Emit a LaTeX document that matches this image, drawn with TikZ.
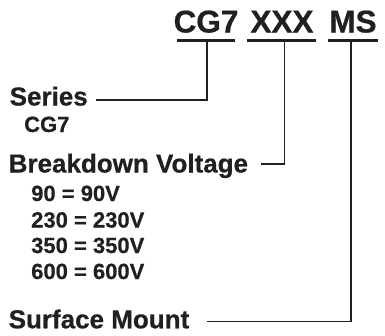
\documentclass[tikz,border=0pt]{standalone}
\usepackage{fontspec}
\setmainfont{Liberation Sans}
\newfontfamily\heavyfont{Liberation Sans Bold}[FakeBold=0.6]
\usepackage{tikz}
\definecolor{ink}{RGB}{35,31,32}
\tikzstyle{code}=[anchor=base,inner sep=0,text=ink,font=\fontsize{31.5}{36}\selectfont\heavyfont]
\tikzset{heading/.style={anchor=base west,inner sep=0,text=ink,font=\fontsize{26}{30}\selectfont\heavyfont}}
\tikzset{option/.style={anchor=base west,inner sep=0,text=ink,font=\fontsize{22}{26}\selectfont\heavyfont}}
\tikzset{underbar/.style={draw=ink,line width=3pt}}
\tikzset{leader/.style={draw=ink,line width=1.3pt}}

\begin{document}
\begin{tikzpicture}[x=1pt,y=-1pt]
\useasboundingbox (0,0) rectangle (385,335);

\node[code] (cg) at (206,32.5) {CG7};
\node[code] (xx) at (282,32.5) {XXX};
\node[code] (ms) at (353,32.5) {MS};

\coordinate (cgl) at (177,40);
\coordinate (cgr) at (235,40);
\coordinate (xxl) at (247,40);
\coordinate (xxr) at (316,40);
\coordinate (msl) at (328,40);
\coordinate (msr) at (378,40);
\draw[underbar] (cgl) to (cgr);
\draw[underbar] (xxl) to (xxr);
\draw[underbar] (msl) to (msr);

\node[heading] (series) at (9.5,105.5) {Series};
\node[option] (cgopt) at (24,132) {CG7};
\node[heading] (bdv) at (8.5,172.5) {Breakdown Voltage};
\foreach \v/\y in {90/201,230/227.5,350/253,600/279}
  \node[option] (v\v) at (31,\y) {\v\ = \v V};
\node[heading] (smt) at (8.5,328.3) {Surface Mount};

% leaders from the code letters down to their labels
\coordinate (cgdrop) at (207,40);
\coordinate (xxdrop) at (284.5,40);
\coordinate (msdrop) at (351,40);
\coordinate (seriesend) at (96,100);
\coordinate (bdvend) at (261,164);
\coordinate (smtend) at (207,321.7);
\draw[leader] (cgdrop) |- (seriesend);
\draw[leader] (xxdrop) |- (bdvend);
\draw[leader] (msdrop) |- (smtend);

\end{tikzpicture}
\end{document}
